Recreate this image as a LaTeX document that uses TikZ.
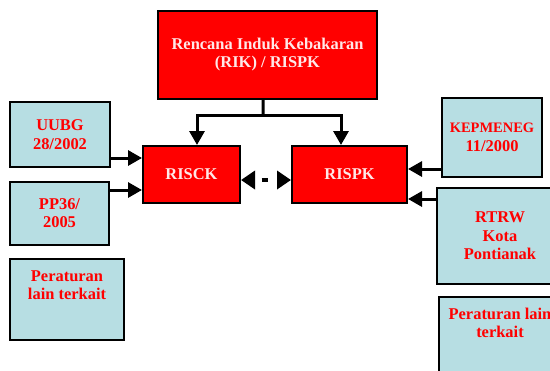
\documentclass[tikz,border=0pt]{standalone}
\usepackage{fontspec}
\setmainfont{Liberation Serif}
\usetikzlibrary{arrows.meta}
\definecolor{boxred}{RGB}{255,0,0}
\definecolor{boxblue}{RGB}{183,222,227}
\definecolor{pinktext}{RGB}{255,232,232}
\tikzset{
  redbox/.style={draw=black, line width=2bp, fill=boxred, text=pinktext, align=center,
    font=\bfseries\fontsize{16.5}{18}\selectfont, inner sep=0pt},
  bluebox/.style={draw=black, line width=2bp, fill=boxblue, text=boxred, align=center,
    font=\bfseries\fontsize{16.5}{18.5}\selectfont, inner sep=0pt},
  arr/.style={draw=black, line width=3bp, -{Triangle[length=14bp,width=15bp]}},
  dotarr/.style={draw=black, line width=4.5bp, {Triangle[length=14bp,width=18bp]}-{Triangle[length=14bp,width=18bp]},
    dash pattern=on 0bp off 7.5bp on 6bp off 30bp}
}
\begin{document}
\begin{tikzpicture}[x=1bp,y=-1bp]
\useasboundingbox (0,0) rectangle (550,370);
\node[redbox, minimum width=219bp, minimum height=88bp] (top) at (267.5,55) {Rencana Induk Kebakaran\\(RIK) / RISPK};
\node[redbox, minimum width=97bp, minimum height=57bp] (risck) at (191.5,174.5) {RISCK};
\node[redbox, minimum width=115bp, minimum height=57bp] (rispk) at (349.5,174.5) {RISPK};
\node[bluebox, minimum width=100bp, minimum height=65bp] (uubg) at (60,134.5) {UUBG\\28/2002};
\node[bluebox, minimum width=99bp, minimum height=63bp] (pp) at (59.5,213) {PP36/\\2005};
\node[bluebox, minimum width=114bp, minimum height=81bp] (perl) at (67,299.5) {Peraturan\\lain terkait\\[10bp]};
\node[bluebox, minimum width=100bp, minimum height=79bp] (kep) at (492,137.5) {{\fontsize{14.5}{18.5}\selectfont KEPMENEG}\\11/2000};
\node[bluebox, minimum width=126bp, minimum height=96bp] (rtrw) at (500,236) {RTRW\\Kota\\Pontianak};
\node[bluebox, minimum width=122bp, minimum height=90bp, anchor=north] (perr) at (500,296) {Peraturan lain\\terkait\\[20bp]};
\coordinate (split) at (263,115);
\draw[line width=3bp] ([xshift=-4.5bp]top.south) -- (split);
\draw[arr] (split) -| ([xshift=5.5bp]risck.north);
\draw[arr] (split) -| ([xshift=-8.5bp]rispk.north);
\draw[arr] (uubg.east |- 0,158) -- (risck.west |- 0,158);
\draw[arr] (pp.east |- 0,190) -- (risck.west |- 0,190);
\draw[arr] (kep.west |- 0,169) -- (rispk.east |- 0,169);
\draw[arr] (rtrw.west |- 0,199) -- (rispk.east |- 0,199);
\draw[dotarr] (risck.east |- 0,180) -- (rispk.west |- 0,180);
\end{tikzpicture}
\end{document}
